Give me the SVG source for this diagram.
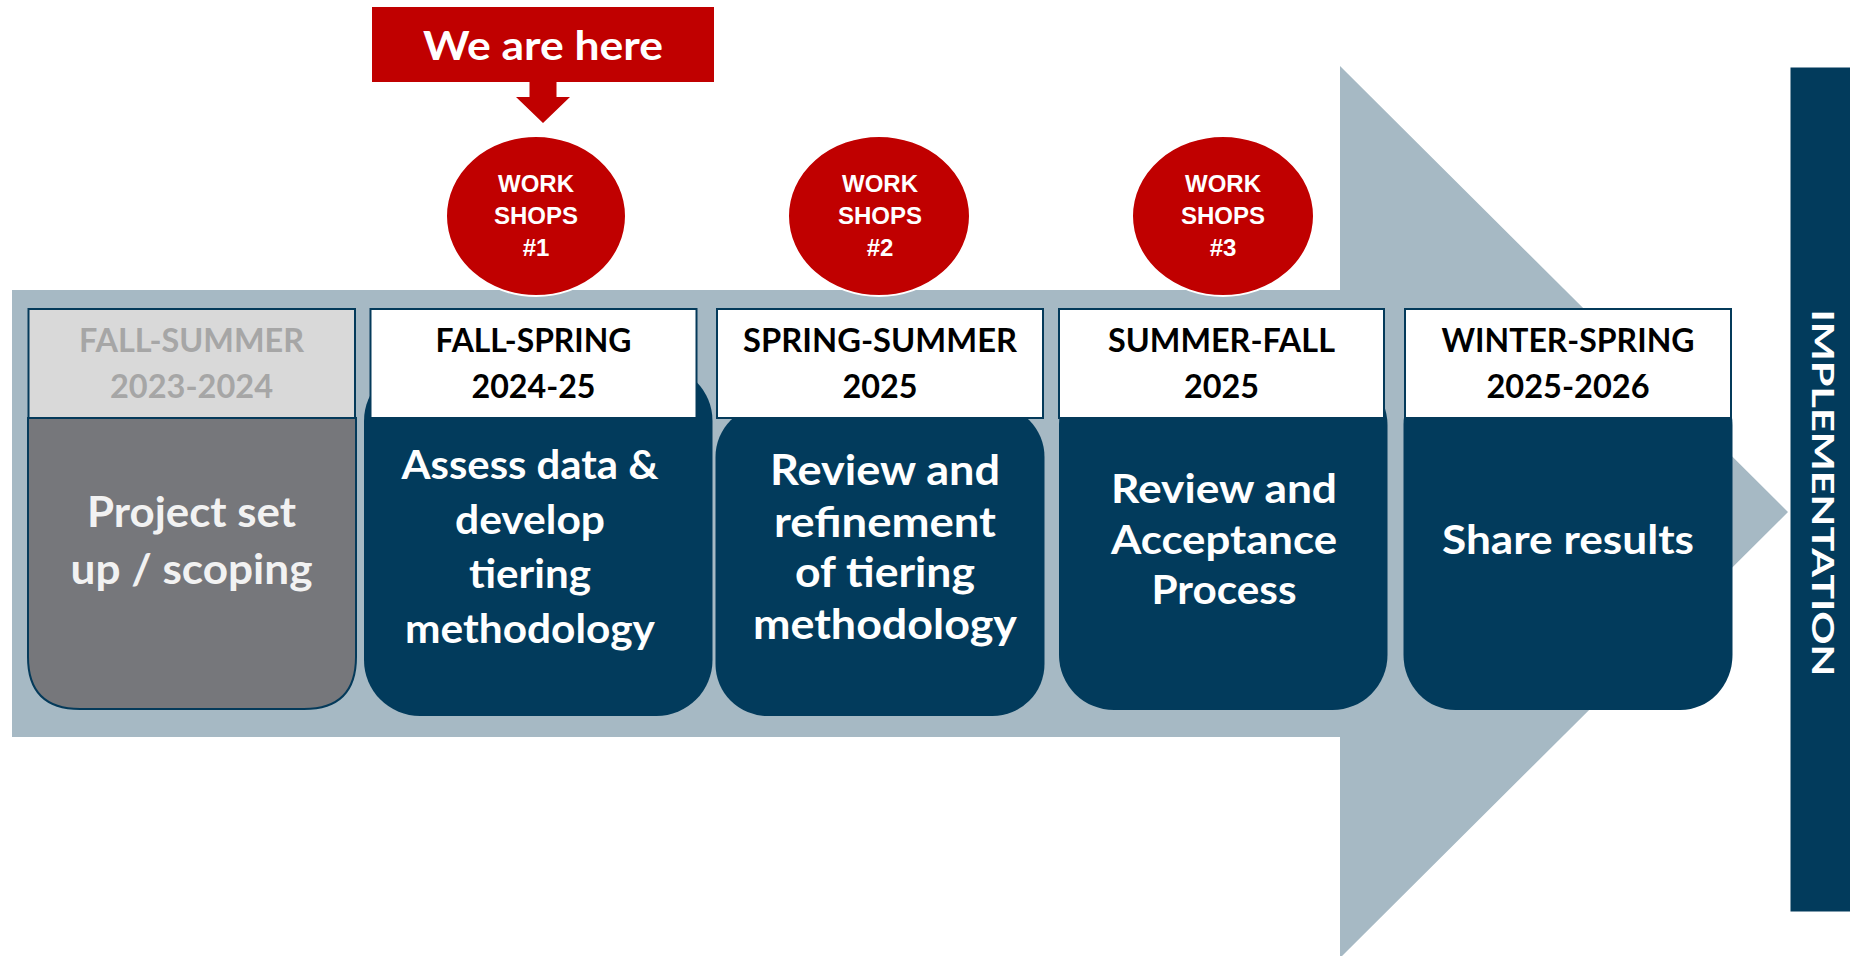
<svg xmlns="http://www.w3.org/2000/svg" width="1850" height="956" viewBox="0 0 1850 956">
<style>
  .hdr { font-family: Lato, "Liberation Sans", sans-serif; font-weight: 700; font-size: 31.5px; fill: #000; text-anchor: middle; }
  .hdrgray { fill: #A6A6A6; }
  .body { font-family: Lato, "Liberation Sans", sans-serif; font-weight: 700; font-size: 40.5px; fill: #FFFFFF; text-anchor: middle; }
  .ws { font-family: "Liberation Sans", Arial, sans-serif; font-weight: 700; font-size: 24px; fill: #FFFFFF; text-anchor: middle; }
  .hbox { fill: #FFFFFF; stroke: #043A5A; stroke-width: 2; }
  .navy { fill: #023B5C; }
  .circle { fill: #C00000; stroke: #FFFFFF; stroke-width: 2; }
</style>
<rect x="0" y="0" width="1850" height="956" fill="#FFFFFF"/>

<g id="timeline-arrow">
  <polygon points="12,290 1340,290 1340,66 1788,512 1340,958 1340,737 12,737" fill="#A6B9C4"/>
</g>

<g id="we-are-here">
  <rect x="372" y="7" width="342" height="75" fill="#C00000"/>
  <polygon points="529.5,81 556.5,81 556.5,97 570,97 543,123 516,97 529.5,97" fill="#C00000"/>
  <text x="543" y="60" class="body" style="font-size:41px" textLength="240" lengthAdjust="spacingAndGlyphs">We are here</text>
</g>

<g id="workshop-1">
  <ellipse cx="536" cy="216" rx="90" ry="80" class="circle"/>
  <text x="536" y="192" class="ws">WORK</text>
  <text x="536" y="224" class="ws">SHOPS</text>
  <text x="536" y="256" class="ws">#1</text>
</g>
<g id="workshop-2">
  <ellipse cx="879" cy="216" rx="91" ry="80" class="circle"/>
  <text x="880" y="192" class="ws">WORK</text>
  <text x="880" y="224" class="ws">SHOPS</text>
  <text x="880" y="256" class="ws">#2</text>
</g>
<g id="workshop-3">
  <ellipse cx="1223" cy="216" rx="91" ry="80" class="circle"/>
  <text x="1223" y="192" class="ws">WORK</text>
  <text x="1223" y="224" class="ws">SHOPS</text>
  <text x="1223" y="256" class="ws">#3</text>
</g>

<g id="card-1">
  <path d="M28,418 L356,418 L356,657 Q356,709 304,709 L80,709 Q28,709 28,657 Z" fill="#76777B" stroke="#043A5A" stroke-width="2"/>
  <rect x="28.5" y="309" width="326.5" height="109" fill="#D9D9D9" stroke="#043A5A" stroke-width="2"/>
  <text x="191.5" y="352" class="hdr hdrgray" textLength="225" lengthAdjust="spacingAndGlyphs">FALL-SUMMER</text>
  <text x="191.5" y="398" class="hdr hdrgray" textLength="163" lengthAdjust="spacingAndGlyphs">2023-2024</text>
  <text x="191.5" y="527" class="body" style="font-size:41.5px;fill:#F2F2F2" textLength="209" lengthAdjust="spacingAndGlyphs">Project set</text>
  <text x="191.5" y="584" class="body" style="font-size:41.5px;fill:#F2F2F2" textLength="242" lengthAdjust="spacingAndGlyphs">up / scoping</text>
</g>

<g id="card-2">
  <rect x="364" y="365" width="348.5" height="351" rx="56" ry="56" class="navy"/>
  <rect x="370.5" y="309" width="326" height="109" class="hbox"/>
  <text x="533.5" y="352" class="hdr" textLength="196" lengthAdjust="spacingAndGlyphs">FALL-SPRING</text>
  <text x="533.5" y="398" class="hdr" textLength="124" lengthAdjust="spacingAndGlyphs">2024-25</text>
  <text x="530" y="479" class="body" textLength="257" lengthAdjust="spacingAndGlyphs">Assess data &amp;</text>
  <text x="530" y="533.5" class="body" textLength="150" lengthAdjust="spacingAndGlyphs">develop</text>
  <text x="530" y="588" class="body" textLength="122" lengthAdjust="spacingAndGlyphs">tiering</text>
  <text x="530" y="642.5" class="body" textLength="250" lengthAdjust="spacingAndGlyphs">methodology</text>
</g>

<g id="card-3">
  <rect x="715.5" y="405" width="329" height="311" rx="52" ry="52" class="navy"/>
  <rect x="717" y="309" width="326" height="109" class="hbox"/>
  <text x="880" y="352" class="hdr" textLength="274" lengthAdjust="spacingAndGlyphs">SPRING-SUMMER</text>
  <text x="880" y="398" class="hdr" textLength="75" lengthAdjust="spacingAndGlyphs">2025</text>
  <text x="885" y="485" class="body" style="font-size:41.5px" textLength="230" lengthAdjust="spacingAndGlyphs">Review and</text>
  <text x="885" y="537" class="body" style="font-size:41.5px" textLength="222" lengthAdjust="spacingAndGlyphs">refinement</text>
  <text x="885" y="587" class="body" style="font-size:41.5px" textLength="180" lengthAdjust="spacingAndGlyphs">of tiering</text>
  <text x="885" y="639" class="body" style="font-size:41.5px" textLength="264" lengthAdjust="spacingAndGlyphs">methodology</text>
</g>

<g id="card-4">
  <rect x="1059" y="370" width="328.5" height="340" rx="55" ry="55" class="navy"/>
  <rect x="1059" y="309" width="325" height="109" class="hbox"/>
  <text x="1221.5" y="352" class="hdr" textLength="227" lengthAdjust="spacingAndGlyphs">SUMMER-FALL</text>
  <text x="1221.5" y="398" class="hdr" textLength="75" lengthAdjust="spacingAndGlyphs">2025</text>
  <text x="1224" y="503" class="body" textLength="226" lengthAdjust="spacingAndGlyphs">Review and</text>
  <text x="1224" y="554" class="body" textLength="226" lengthAdjust="spacingAndGlyphs">Acceptance</text>
  <text x="1224" y="604" class="body" textLength="145" lengthAdjust="spacingAndGlyphs">Process</text>
</g>

<g id="card-5">
  <rect x="1403.5" y="370" width="329" height="340" rx="52" ry="55" class="navy"/>
  <rect x="1405" y="309" width="326" height="109" class="hbox"/>
  <text x="1568" y="352" class="hdr" textLength="253" lengthAdjust="spacingAndGlyphs">WINTER-SPRING</text>
  <text x="1568" y="398" class="hdr" textLength="163" lengthAdjust="spacingAndGlyphs">2025-2026</text>
  <text x="1568" y="554" class="body" textLength="252" lengthAdjust="spacingAndGlyphs">Share results</text>
</g>

<g id="implementation">
  <rect x="1790.5" y="67.5" width="59.5" height="844" class="navy"/>
  <text transform="translate(1812,493) rotate(90)" x="0" y="0" class="body" style="font-size:31px" textLength="367" lengthAdjust="spacingAndGlyphs">IMPLEMENTATION</text>
</g>

<g id="connectors"></g>
</svg>
